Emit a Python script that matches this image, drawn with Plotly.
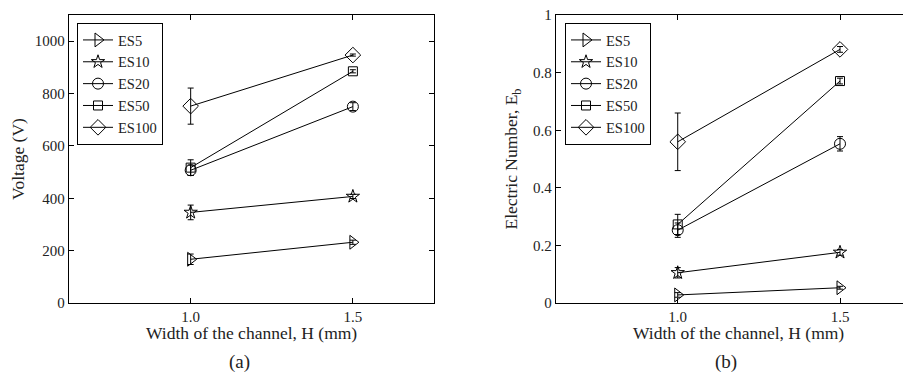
import plotly.graph_objects as go

# ---------------- data ----------------
H = [1.0, 1.5]
series = ["ES5", "ES10", "ES20", "ES50", "ES100"]

volt_es5 = [167, 232]
volt_es10 = [346, 407]
volt_es20 = [507, 750]
volt_es50 = [517, 885]
volt_es100 = [752, 947]
volt_err_es5 = [20, 8]
volt_err_es10 = [28, 8]
volt_err_es20 = [20, 15]
volt_err_es50 = [30, 6]
volt_err_es100 = [69, 4]

eb_es5 = [0.028, 0.053]
eb_es10 = [0.105, 0.176]
eb_es20 = [0.253, 0.553]
eb_es50 = [0.273, 0.771]
eb_es100 = [0.560, 0.881]
eb_err_es5 = [0.008, 0.005]
eb_err_es10 = [0.018, 0.010]
eb_err_es20 = [0.025, 0.025]
eb_err_es50 = [0.035, 0.010]
eb_err_es100 = [0.100, 0.010]

volt = [volt_es5, volt_es10, volt_es20, volt_es50, volt_es100]
volt_err = [volt_err_es5, volt_err_es10, volt_err_es20, volt_err_es50, volt_err_es100]
eb = [eb_es5, eb_es10, eb_es20, eb_es50, eb_es100]
eb_err = [eb_err_es5, eb_err_es10, eb_err_es20, eb_err_es50, eb_err_es100]

x_tickvals = [1.0, 1.5]
x_ticktext = ["1.0", "1.5"]
volt_ticks = [0, 200, 400, 600, 800, 1000]
eb_ticks = [0, 0.2, 0.4, 0.6, 0.8, 1]
eb_ticktext = ["0", "0.2", "0.4", "0.6", "0.8", "1"]

x_title = "Width of the channel, H (mm)"
panel_labels = ["(a)", "(b)"]

symbols = ["triangle-right-open", "star-open", "circle-open", "square-open", "diamond-open"]
sizes = [12, 10, 11, 9, 12]

FONT = "Liberation Serif"
OFF = 8  # page body margin
W, Hh = 911 - OFF, 374 - OFF

fig = go.Figure()
for i, name in enumerate(series):
    fig.add_trace(go.Scatter(
        x=H, y=volt[i], name=name, mode="lines+markers",
        line=dict(color="black", width=1),
        marker=dict(symbol=symbols[i], size=sizes[i], color="black", line=dict(width=1, color="black")),
        error_y=dict(type="data", array=volt_err[i], color="black", thickness=1, width=3),
        xaxis="x", yaxis="y", legend="legend",
    ))
for i, name in enumerate(series):
    fig.add_trace(go.Scatter(
        x=H, y=eb[i], name=name, mode="lines+markers",
        line=dict(color="black", width=1),
        marker=dict(symbol=symbols[i], size=sizes[i], color="black", line=dict(width=1, color="black")),
        error_y=dict(type="data", array=eb_err[i], color="black", thickness=1, width=3),
        xaxis="x2", yaxis="y2", legend="legend2",
    ))

def px_x(p):
    return (p - OFF) / W

def px_y(p):
    return 1 - (p - OFF) / Hh

axis_common = dict(
    showgrid=False, zeroline=False, ticks="inside", ticklen=5, tickcolor="black",
    linecolor="black", linewidth=1.3, showline=True, automargin=False,
    ticklabeloverflow="allow",
    tickfont=dict(family=FONT, size=15, color="#222"),
)

legend_common = dict(xanchor="left", yanchor="top",
                     bgcolor="white", bordercolor="black", borderwidth=1,
                     font=dict(family=FONT, size=14.5, color="#222"), tracegroupgap=0)

fig.update_layout(
    template="none",
    width=W, height=Hh, autosize=False,
    margin=dict(l=0, r=0, t=0, b=0, pad=0),
    paper_bgcolor="white", plot_bgcolor="white",
    font=dict(family=FONT, color="#222"),
    xaxis=dict(domain=[px_x(69), px_x(434)], range=[0.625, 1.75], anchor="y",
               tickvals=x_tickvals, ticktext=x_ticktext, mirror="ticks",
               **axis_common),
    yaxis=dict(domain=[px_y(303), px_y(15)], range=[0, 1100], anchor="x",
               tickvals=volt_ticks, mirror="ticks",
               title=dict(text="Voltage (V)", font=dict(family=FONT, size=17.5), standoff=10),
               **axis_common),
    xaxis2=dict(domain=[px_x(556), 1.0], range=[0.625, 1.5 + (911 - 840) / 324.6], anchor="y2",
                tickvals=x_tickvals, ticktext=x_ticktext, mirror="ticks",
                **axis_common),
    yaxis2=dict(domain=[px_y(303), px_y(15)], range=[0, 1.0005], anchor="x2",
                tickvals=eb_ticks, ticktext=eb_ticktext, mirror=False,
                title=dict(text="Electric Number, E<sub>b</sub>", font=dict(family=FONT, size=17.5), standoff=10),
                **axis_common),
    legend=dict(x=px_x(77), y=px_y(23), **legend_common),
    legend2=dict(x=px_x(565), y=px_y(23), **legend_common),
    annotations=[
        dict(text=x_title, x=px_x(251.5), y=px_y(333), xref="paper", yref="paper",
             xanchor="center", yanchor="middle",
             showarrow=False, font=dict(family=FONT, size=17.5, color="#222")),
        dict(text=x_title, x=px_x(738.5), y=px_y(333), xref="paper", yref="paper",
             xanchor="center", yanchor="middle",
             showarrow=False, font=dict(family=FONT, size=17.5, color="#222")),
        dict(text=panel_labels[0], x=px_x(240), y=px_y(362), xref="paper", yref="paper",
             xanchor="center", yanchor="middle",
             showarrow=False, font=dict(family=FONT, size=19, color="#222")),
        dict(text=panel_labels[1], x=px_x(726), y=px_y(362), xref="paper", yref="paper",
             xanchor="center", yanchor="middle",
             showarrow=False, font=dict(family=FONT, size=19, color="#222")),
    ],
)

fig.write_html("out.html")
